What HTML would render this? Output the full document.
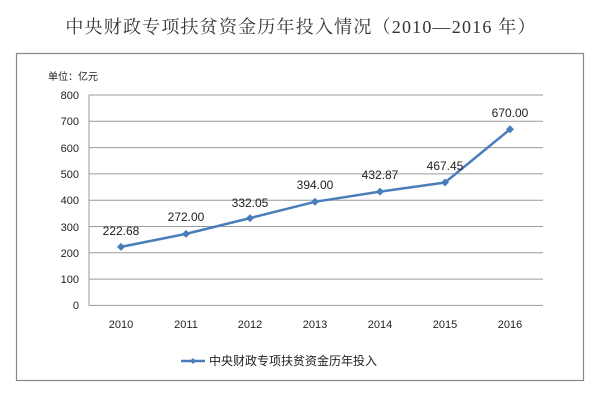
<!DOCTYPE html>
<html><head><meta charset="utf-8"><style>
body{margin:0;background:#fff;width:600px;height:407px;overflow:hidden}
</style></head><body>
<svg width="600" height="407" xmlns="http://www.w3.org/2000/svg" font-family="'Liberation Sans','Noto Sans CJK SC',sans-serif">
<rect width="600" height="407" fill="#fff"/>
<text x="301" y="33" text-anchor="middle" font-size="18" letter-spacing="1.2" font-family="'Liberation Serif','Noto Serif CJK SC',serif" fill="#333">中央财政专项扶贫资金历年投入情况（2010—2016 年）</text>
<rect x="16.5" y="53.5" width="567" height="327" fill="#fff" stroke="#888" stroke-width="1.2"/>
<text x="48" y="80" font-size="10" fill="#222">单位：亿元</text>
<g stroke="#9a9a9a" stroke-width="1">
<line x1="89" y1="95" x2="543" y2="95"/>
<line x1="89" y1="121.3" x2="543" y2="121.3"/>
<line x1="89" y1="147.6" x2="543" y2="147.6"/>
<line x1="89" y1="173.9" x2="543" y2="173.9"/>
<line x1="89" y1="200.2" x2="543" y2="200.2"/>
<line x1="89" y1="226.5" x2="543" y2="226.5"/>
<line x1="89" y1="252.8" x2="543" y2="252.8"/>
<line x1="89" y1="279.1" x2="543" y2="279.1"/>
<line x1="89" y1="305.4" x2="543" y2="305.4"/>
<line x1="89" y1="95" x2="89" y2="305.4"/>
</g>
<g font-size="11" fill="#222" text-anchor="end">
<text x="79" y="99">800</text><text x="79" y="125">700</text><text x="79" y="152">600</text><text x="79" y="178">500</text><text x="79" y="204">400</text><text x="79" y="231">300</text><text x="79" y="257">200</text><text x="79" y="283">100</text><text x="79" y="309">0</text>
</g>
<g font-size="11" fill="#222" text-anchor="middle">
<text x="121" y="328">2010</text><text x="186" y="328">2011</text><text x="250" y="328">2012</text><text x="315" y="328">2013</text><text x="380" y="328">2014</text><text x="445" y="328">2015</text><text x="510" y="328">2016</text>
</g>
<polyline fill="none" stroke="#4a7ebb" stroke-width="2.5" points="121,246.9 186,233.9 250,218.1 315,201.8 380,191.6 445,182.5 510,129.3"/>
<g fill="#4a7ebb">
<path d="M121,242.9l4,4l-4,4l-4,-4z"/><path d="M186,229.9l4,4l-4,4l-4,-4z"/><path d="M250,214.1l4,4l-4,4l-4,-4z"/><path d="M315,197.8l4,4l-4,4l-4,-4z"/><path d="M380,187.6l4,4l-4,4l-4,-4z"/><path d="M445,178.5l4,4l-4,4l-4,-4z"/><path d="M510,125.3l4,4l-4,4l-4,-4z"/>
</g>
<g font-size="12" fill="#222" text-anchor="middle">
<text x="121" y="235">222.68</text><text x="186" y="221">272.00</text><text x="250" y="207">332.05</text><text x="315" y="189">394.00</text><text x="380" y="179">432.87</text><text x="445" y="170">467.45</text><text x="510" y="117">670.00</text>
</g>
<line x1="181" y1="361" x2="205" y2="361" stroke="#4a7ebb" stroke-width="2.5"/>
<path d="M193,358l3,3l-3,3l-3,-3z" fill="#4a7ebb"/>
<text x="209" y="365" font-size="12" fill="#222">中央财政专项扶贫资金历年投入</text>
</svg>
</body></html>
